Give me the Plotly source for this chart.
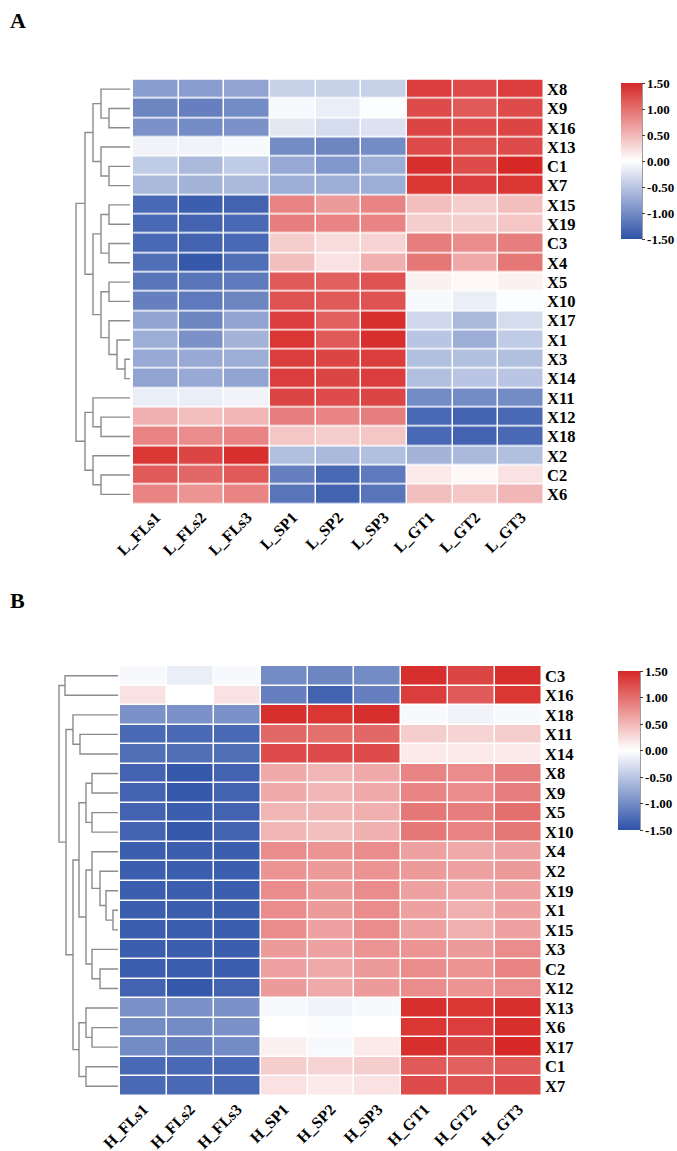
import plotly.graph_objects as go

W, H = 677, 1151

# ---------------- Panel A data ----------------
samples_A = ["L_FLs1", "L_FLs2", "L_FLs3", "L_SP1", "L_SP2", "L_SP3", "L_GT1", "L_GT2", "L_GT3"]
rows_A = ["X8", "X9", "X16", "X13", "C1", "X7", "X15", "X19", "C3", "X4", "X5",
          "X10", "X17", "X1", "X3", "X14", "X11", "X12", "X18", "X2", "C2", "X6"]
values_A = [
    [-0.85, -0.85, -0.80, -0.40, -0.40, -0.40, 1.35, 1.25, 1.35],
    [-1.05, -1.10, -1.00, -0.05, -0.15, -0.02, 1.25, 1.15, 1.25],
    [-0.95, -1.00, -0.95, -0.20, -0.30, -0.25, 1.30, 1.25, 1.30],
    [-0.10, -0.10, -0.05, -1.00, -1.05, -1.00, 1.25, 1.20, 1.25],
    [-0.45, -0.60, -0.45, -0.75, -0.90, -0.70, 1.45, 1.25, 1.50],
    [-0.60, -0.65, -0.60, -0.70, -0.70, -0.70, 1.40, 1.35, 1.40],
    [-1.30, -1.40, -1.35, 0.85, 0.70, 0.85, 0.45, 0.35, 0.45],
    [-1.30, -1.35, -1.30, 0.90, 0.85, 0.85, 0.35, 0.35, 0.40],
    [-1.30, -1.35, -1.30, 0.35, 0.25, 0.30, 0.90, 0.80, 0.90],
    [-1.25, -1.45, -1.25, 0.45, 0.20, 0.55, 0.95, 0.60, 0.95],
    [-1.20, -1.20, -1.15, 1.15, 1.10, 1.20, 0.10, 0.05, 0.10],
    [-1.10, -1.15, -1.05, 1.20, 1.15, 1.20, -0.05, -0.15, -0.02],
    [-0.80, -1.05, -0.80, 1.35, 1.10, 1.45, -0.35, -0.60, -0.30],
    [-0.70, -0.95, -0.65, 1.40, 1.15, 1.45, -0.50, -0.70, -0.45],
    [-0.75, -0.75, -0.70, 1.35, 1.30, 1.35, -0.55, -0.55, -0.55],
    [-0.80, -0.75, -0.80, 1.35, 1.30, 1.35, -0.55, -0.50, -0.50],
    [-0.15, -0.15, -0.10, 1.30, 1.25, 1.30, -1.00, -1.00, -1.00],
    [0.55, 0.45, 0.50, 0.90, 0.85, 0.90, -1.30, -1.35, -1.30],
    [0.85, 0.80, 0.85, 0.40, 0.35, 0.40, -1.30, -1.35, -1.30],
    [1.40, 1.30, 1.45, -0.55, -0.60, -0.55, -0.65, -0.60, -0.55],
    [1.15, 1.05, 1.15, -1.10, -1.30, -1.15, 0.15, 0.05, 0.20],
    [0.85, 0.75, 0.85, -1.20, -1.35, -1.20, 0.45, 0.40, 0.50],
]
# linkage: [child_a, child_b, height]; leaves 0..21, clusters 22+
linkage_A = [
    [1, 2, 21], [0, 22, 29], [4, 5, 21], [3, 24, 29], [23, 25, 37],
    [6, 7, 21], [8, 9, 21], [27, 28, 29], [14, 15, 5], [13, 30, 13],
    [12, 31, 21], [10, 11, 21], [33, 32, 29], [29, 34, 37], [26, 35, 45],
    [17, 18, 29], [16, 37, 37], [20, 21, 29], [19, 39, 37], [38, 40, 45],
    [36, 41, 54],
]

# ---------------- Panel B data ----------------
samples_B = ["H_FLs1", "H_FLs2", "H_FLs3", "H_SP1", "H_SP2", "H_SP3", "H_GT1", "H_GT2", "H_GT3"]
rows_B = ["C3", "X16", "X18", "X11", "X14", "X8", "X9", "X5", "X10", "X4", "X2",
          "X19", "X1", "X15", "X3", "C2", "X12", "X13", "X6", "X17", "C1", "X7"]
values_B = [
    [-0.05, -0.15, -0.05, -1.00, -1.05, -1.00, 1.45, 1.30, 1.45],
    [0.20, 0.00, 0.20, -1.10, -1.35, -1.10, 1.35, 1.15, 1.40],
    [-0.95, -0.95, -0.95, 1.45, 1.40, 1.45, -0.05, -0.10, -0.05],
    [-1.30, -1.30, -1.30, 1.05, 1.00, 1.05, 0.35, 0.30, 0.35],
    [-1.25, -1.25, -1.25, 1.25, 1.25, 1.25, 0.15, 0.15, 0.15],
    [-1.35, -1.45, -1.35, 0.60, 0.50, 0.60, 0.85, 0.80, 0.90],
    [-1.35, -1.45, -1.35, 0.60, 0.50, 0.60, 0.85, 0.80, 0.90],
    [-1.35, -1.40, -1.35, 0.50, 0.50, 0.55, 0.95, 0.90, 1.00],
    [-1.35, -1.45, -1.35, 0.50, 0.45, 0.55, 0.95, 0.85, 0.95],
    [-1.40, -1.40, -1.40, 0.80, 0.75, 0.80, 0.65, 0.60, 0.65],
    [-1.40, -1.40, -1.40, 0.75, 0.70, 0.75, 0.70, 0.65, 0.70],
    [-1.40, -1.40, -1.40, 0.80, 0.70, 0.80, 0.65, 0.60, 0.65],
    [-1.40, -1.40, -1.40, 0.80, 0.70, 0.80, 0.65, 0.55, 0.65],
    [-1.40, -1.40, -1.40, 0.80, 0.65, 0.80, 0.65, 0.55, 0.65],
    [-1.40, -1.40, -1.40, 0.70, 0.65, 0.75, 0.75, 0.70, 0.80],
    [-1.40, -1.40, -1.40, 0.65, 0.60, 0.70, 0.80, 0.75, 0.85],
    [-1.35, -1.45, -1.35, 0.70, 0.60, 0.70, 0.80, 0.75, 0.80],
    [-0.95, -0.95, -0.95, -0.05, -0.10, -0.05, 1.45, 1.40, 1.45],
    [-1.00, -1.00, -0.95, 0.00, -0.03, 0.00, 1.40, 1.35, 1.45],
    [-1.00, -1.10, -1.00, 0.10, -0.05, 0.15, 1.45, 1.30, 1.50],
    [-1.30, -1.30, -1.30, 0.35, 0.30, 0.35, 1.15, 1.10, 1.15],
    [-1.30, -1.30, -1.30, 0.20, 0.15, 0.20, 1.25, 1.20, 1.25],
]
linkage_B = [
    [0, 1, 53], [3, 4, 38], [2, 23, 45], [5, 6, 26], [7, 8, 26],
    [25, 26, 32], [12, 13, 5], [11, 28, 12], [10, 29, 18], [9, 30, 26],
    [15, 16, 18], [14, 32, 26], [31, 33, 32], [27, 34, 39], [18, 19, 26],
    [17, 36, 32], [20, 21, 32], [37, 38, 39], [35, 39, 45], [24, 40, 52],
    [22, 41, 59],
]

tick_vals = [-1.5, -1.0, -0.5, 0.0, 0.5, 1.0, 1.5]
tick_text = ["-1.50", "-1.00", "-0.50", "0.00", "0.50", "1.00", "1.50"]

colorscale = [[0.0, "rgb(46,82,168)"], [0.5, "rgb(255,255,255)"], [1.0, "rgb(214,40,38)"]]
SERIF = "Liberation Serif"
DENDRO_COLOR = "rgb(140,140,140)"


def dendro_lines(linkage, n):
    pos = {i: float(i) for i in range(n)}
    hgt = {i: 0.0 for i in range(n)}
    xs, ys = [], []
    for k, (a, b, h) in enumerate(linkage):
        ya, yb = pos[a], pos[b]
        xs += [hgt[a], h, h, hgt[b], None]
        ys += [ya, ya, yb, yb, None]
        pos[n + k] = (ya + yb) / 2.0
        hgt[n + k] = h
    return xs, ys


def px_x(p):
    return p / W


def px_y(p):
    return 1 - p / H


fig = go.Figure()

fig.add_trace(go.Heatmap(
    z=values_A, x=samples_A, y=rows_A, coloraxis="coloraxis",
    xgap=1.5, ygap=1.5, xaxis="x", yaxis="y", hoverongaps=False))
dxA, dyA = dendro_lines(linkage_A, len(rows_A))
fig.add_trace(go.Scatter(x=dxA, y=dyA, mode="lines", xaxis="x2", yaxis="y2",
                         line=dict(color=DENDRO_COLOR, width=1.4), hoverinfo="skip",
                         showlegend=False))

fig.add_trace(go.Heatmap(
    z=values_B, x=samples_B, y=rows_B, coloraxis="coloraxis2",
    xgap=1.5, ygap=1.5, xaxis="x3", yaxis="y3", hoverongaps=False))
dxB, dyB = dendro_lines(linkage_B, len(rows_B))
fig.add_trace(go.Scatter(x=dxB, y=dyB, mode="lines", xaxis="x4", yaxis="y4",
                         line=dict(color=DENDRO_COLOR, width=1.4), hoverinfo="skip",
                         showlegend=False))

xlabel_font = dict(family=SERIF, size=16, color="black", weight="bold")
ylabel_font = dict(family=SERIF, size=16.5, color="black", weight="bold")
cb_font = dict(family=SERIF, size=13, color="black", weight="bold")

A_top, A_bot, A_left, A_right = 79.5, 504, 133, 544
B_top, B_bot, B_left, B_right = 666, 1096, 120, 542

common_heat_x = dict(showgrid=False, zeroline=False, showline=False, ticks="",
                     tickangle=-45, tickfont=xlabel_font, fixedrange=True, automargin=False)
common_heat_y = dict(showgrid=False, zeroline=False, showline=False, ticks="",
                     side="right", tickfont=ylabel_font, fixedrange=True, automargin=False,
                     ticklabelstandoff=2, tickmode="array")
common_dendro_x = dict(visible=False, fixedrange=True, automargin=False)
common_dendro_y = dict(visible=False, fixedrange=True, automargin=False)

fig.update_layout(
    width=W, height=H,
    margin=dict(l=0, r=0, t=0, b=0, autoexpand=False),
    paper_bgcolor="white", plot_bgcolor="white",
    showlegend=False,
    xaxis=dict(domain=[px_x(A_left), px_x(A_right)], anchor="y",
               tickmode="array", tickvals=samples_A, ticktext=samples_A, **common_heat_x),
    yaxis=dict(domain=[px_y(A_bot), px_y(A_top)], anchor="x",
               tickvals=rows_A, ticktext=rows_A,
               range=[len(rows_A) - 0.5, -0.5], **common_heat_y),
    xaxis2=dict(domain=[px_x(130 - 60), px_x(130)], anchor="y2", range=[60, 0], **common_dendro_x),
    yaxis2=dict(domain=[px_y(A_bot), px_y(A_top)], anchor="x2",
                range=[len(rows_A) - 0.5, -0.5], **common_dendro_y),
    xaxis3=dict(domain=[px_x(B_left), px_x(B_right)], anchor="y3",
                tickmode="array", tickvals=samples_B, ticktext=samples_B, **common_heat_x),
    yaxis3=dict(domain=[px_y(B_bot), px_y(B_top)], anchor="x3",
                tickvals=rows_B, ticktext=rows_B,
                range=[len(rows_B) - 0.5, -0.5], **common_heat_y),
    xaxis4=dict(domain=[px_x(118 - 65), px_x(118)], anchor="y4", range=[65, 0], **common_dendro_x),
    yaxis4=dict(domain=[px_y(B_bot), px_y(B_top)], anchor="x4",
                range=[len(rows_B) - 0.5, -0.5], **common_dendro_y),
    coloraxis=dict(
        colorscale=colorscale, cmin=-1.5, cmax=1.5,
        colorbar=dict(x=px_x(621), xanchor="left", y=px_y(161), yanchor="middle",
                      len=156, lenmode="pixels", thickness=21, thicknessmode="pixels",
                      outlinewidth=0, ticks="outside", ticklen=3, tickwidth=1,
                      tickcolor="rgb(60,60,60)", tickvals=tick_vals, ticktext=tick_text,
                      tickfont=cb_font, xpad=0, ypad=0)),
    coloraxis2=dict(
        colorscale=colorscale, cmin=-1.5, cmax=1.5,
        colorbar=dict(x=px_x(618), xanchor="left", y=px_y(750.5), yanchor="middle",
                      len=159, lenmode="pixels", thickness=22, thicknessmode="pixels",
                      outlinewidth=0, ticks="outside", ticklen=3, tickwidth=1,
                      tickcolor="rgb(60,60,60)", tickvals=tick_vals, ticktext=tick_text,
                      tickfont=cb_font, xpad=0, ypad=0)),
    annotations=[
        dict(text="A", x=px_x(8), y=px_y(6), xref="paper", yref="paper",
             xanchor="left", yanchor="top", showarrow=False,
             font=dict(family=SERIF, size=22, color="black", weight="bold")),
        dict(text="B", x=px_x(8), y=px_y(586), xref="paper", yref="paper",
             xanchor="left", yanchor="top", showarrow=False,
             font=dict(family=SERIF, size=22, color="black", weight="bold")),
    ],
    shapes=[
        dict(type="line", xref="paper", yref="paper", x0=px_x(642), x1=px_x(642),
             y0=px_y(83), y1=px_y(239), line=dict(color="rgb(60,60,60)", width=1)),
        dict(type="line", xref="paper", yref="paper", x0=px_x(640), x1=px_x(640),
             y0=px_y(671), y1=px_y(830), line=dict(color="rgb(60,60,60)", width=1)),
    ],
)

fig.write_html("out.html")
